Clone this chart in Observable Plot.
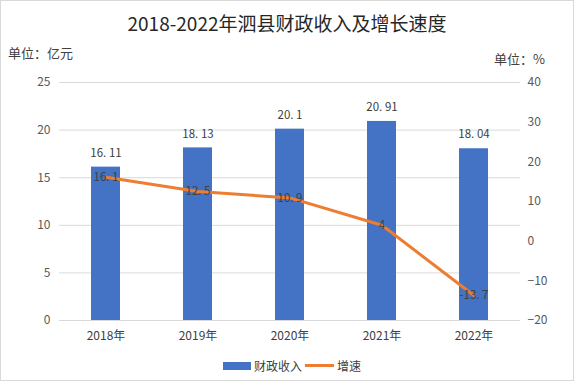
<!DOCTYPE html>
<html>
<head>
<meta charset="utf-8">
<script src="https://cdn.jsdelivr.net/npm/d3@7"></script>
<script src="https://cdn.jsdelivr.net/npm/@observablehq/plot@0.6"></script>
<style>
  html, body { margin: 0; padding: 0; background: #fff; }
  #wrap { position: relative; width: 574px; height: 381px; overflow: hidden; font-family: "Noto Sans CJK SC", sans-serif; }
  #border { position: absolute; left: 0; top: 0; width: 574px; height: 381px; box-sizing: border-box; border: 1px solid #d9d9d9; pointer-events: none; }
  #chart { position: absolute; left: 0; top: 0; }
  .lbl { position: absolute; white-space: nowrap; color: #404040; line-height: 1; }
  #title { left: 0; width: 574px; text-align: center; top: 13px; font-size: 19px; color: #262626; }
  #unitL { left: 8px; top: 46px; font-size: 13px; }
  #unitR { right: 29px; top: 52px; font-size: 13px; }
  #legend { position: absolute; top: 357px; left: 223px; display: flex; align-items: center; font-size: 12px; color: #404040; }
  .sw { display: inline-block; }
</style>
</head>
<body>
<div id="wrap">
  <div id="chart"></div>
  <div id="title" class="lbl">2018-2022年泗县财政收入及增长速度</div>
  <div id="unitL" class="lbl">单位：亿元</div>
  <div id="unitR" class="lbl">单位：%</div>
  <div id="legend">
    <span class="sw" style="width:28px;height:8px;background:#4472C4;margin-right:3px;"></span><span>财政收入</span>
    <span class="sw" style="width:29px;height:3px;background:#ED7D31;margin:0 3px 0 3px;"></span><span>增速</span>
  </div>
  <div id="border"></div>
</div>
<script>
const years = ["2018年", "2019年", "2020年", "2021年", "2022年"];
const revenue = [16.11, 18.13, 20.1, 20.91, 18.04];
const growth = [16.1, 12.5, 10.9, 4, -13.7];
const leftTicks = [0, 5, 10, 15, 20, 25];
const rightTicks = [-20, -10, 0, 10, 20, 30, 40];

const leftMax = 25, rMin = -20, rMax = 40;
const toLeft = g => (g - rMin) * leftMax / (rMax - rMin);
const fromLeft = v => Math.round(v * (rMax - rMin) / leftMax + rMin);
const fmt = v => String(v).replace(".", ". ");
const minus = v => v < 0 ? "−" + Math.abs(v) : String(v);

const data = years.map((y, i) => ({year: y, revenue: revenue[i], growth: growth[i], gl: toLeft(growth[i])}));

const chart = Plot.plot({
  width: 574,
  height: 381,
  marginTop: 82,
  marginBottom: 61,
  marginLeft: 59,
  marginRight: 54,
  style: {fontFamily: "'Noto Sans CJK SC', sans-serif", fontSize: "12px", color: "#595959", background: "transparent"},
  x: {domain: years, paddingInner: 0.685, paddingOuter: 0.3425, axis: null},
  y: {domain: [0, leftMax], axis: null},
  marks: [
    Plot.ruleY(leftTicks, {stroke: "#d9d9d9", strokeWidth: 1}),
    Plot.barY(data, {x: "year", y: "revenue", fill: "#4472C4"}),
    Plot.line(data, {x: "year", y: "gl", stroke: "#ED7D31", strokeWidth: 3, curve: "linear", strokeLinejoin: "round"}),
    Plot.text(data, {x: "year", y: "revenue", text: d => fmt(d.revenue), dy: -14, fill: "#404040", fontSize: 11.5}),
    Plot.text(data, {x: "year", y: "gl", text: d => fmt(d.growth), fill: "#404040", fontSize: 11.5}),
    Plot.axisX({tickSize: 0, tickPadding: 11, fill: "#404040", fontSize: 12, label: null}),
    Plot.axisY({ticks: leftTicks, tickSize: 0, tickPadding: 9, fill: "#595959", label: null}),
    Plot.axisY({anchor: "right", ticks: rightTicks.map(toLeft), tickFormat: v => minus(fromLeft(v)), tickSize: 0, tickPadding: 7, fill: "#595959", label: null})
  ]
});
document.getElementById("chart").appendChild(chart);
</script>
</body>
</html>
